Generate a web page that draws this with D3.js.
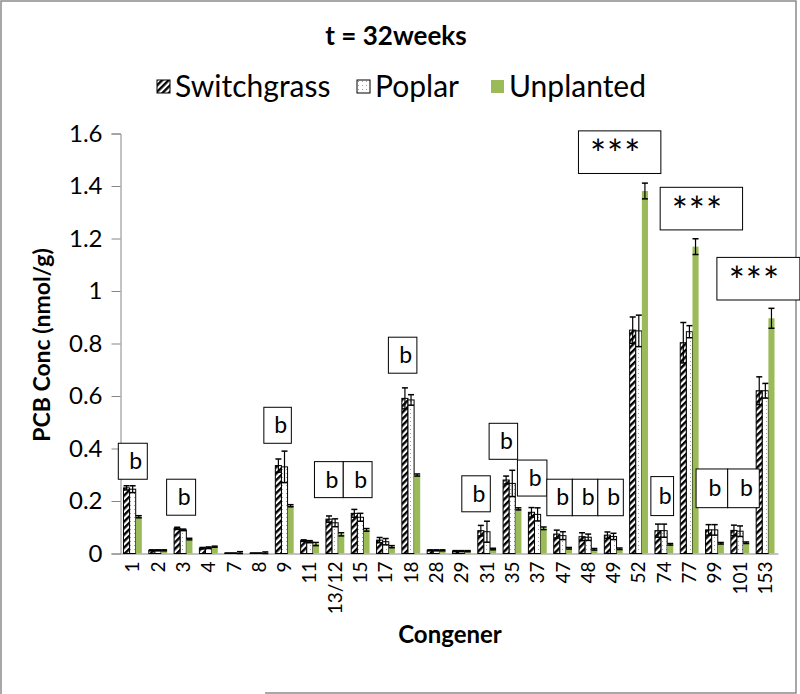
<!DOCTYPE html>
<html><head><meta charset="utf-8">
<script src="https://cdn.jsdelivr.net/npm/d3@7"></script>
<style>
html,body{margin:0;padding:0;background:#fff;}
svg{display:block;}
text{font-family:Lato,"Open Sans",sans-serif;}
</style></head>
<body>
<svg id="chart" width="800" height="694"></svg>
<script>
const congeners = ["1","2","3","4","7","8","9","11","13/12","15","17","18","28","29","31","35","37","47","48","49","52","74","77","99","101","153"];
const seriesNames = ["Switchgrass","Poplar","Unplanted"];
const switchgrass = [0.25,0.012,0.096,0.02,0.001,0.001,0.335,0.049,0.131,0.153,0.051,0.591,0.012,0.009,0.087,0.28,0.157,0.074,0.064,0.07,0.851,0.087,0.803,0.09,0.088,0.62];
const switchgrassErr = [0.008,0.002,0.004,0.003,0,0,0.025,0.003,0.012,0.015,0.01,0.04,0.002,0.002,0.02,0.015,0.018,0.015,0.015,0.012,0.05,0.025,0.077,0.02,0.02,0.053];
const poplar = [0.245,0.012,0.09,0.022,0.001,0.001,0.33,0.045,0.117,0.138,0.045,0.585,0.012,0.009,0.083,0.267,0.149,0.068,0.062,0.065,0.848,0.087,0.845,0.09,0.085,0.62];
const poplarErr = [0.013,0.002,0.003,0.003,0,0,0.06,0.004,0.015,0.015,0.012,0.02,0.002,0.002,0.04,0.05,0.025,0.015,0.012,0.012,0.06,0.025,0.023,0.02,0.02,0.028];
const unplanted = [0.14,0.012,0.055,0.026,0.003,0.003,0.182,0.036,0.073,0.09,0.026,0.299,0.012,0.009,0.017,0.17,0.096,0.02,0.016,0.018,1.381,0.035,1.169,0.039,0.041,0.896];
const unplantedErr = [0.004,0.002,0.003,0.002,0.004,0.003,0.004,0.006,0.006,0.005,0.004,0.004,0.002,0.002,0.003,0.004,0.005,0.003,0.003,0.003,0.03,0.003,0.03,0.003,0.003,0.038];
const yTicks = [0,0.2,0.4,0.6,0.8,1,1.2,1.4,1.6];
const yTickLabels = ["0","0.2","0.4","0.6","0.8","1","1.2","1.4","1.6"];
// annotation boxes: anchor congener, label, number of adjacent boxes, top value
const annotations = [
  {cat:"1", label:"b", n:1, top:0.42},
  {cat:"3", label:"b", n:1, top:0.283},
  {cat:"9", label:"b", n:1, top:0.557},
  {cat:"13/12", label:"b", n:2, top:0.35},
  {cat:"18", label:"b", n:1, top:0.824},
  {cat:"31", label:"b", n:1, top:0.296},
  {cat:"35", label:"b", n:1, top:0.496},
  {cat:"37", label:"b", n:1, top:0.356},
  {cat:"47", label:"b", n:3, top:0.283},
  {cat:"74", label:"b", n:1, top:0.293},
  {cat:"99", label:"b", n:2, top:0.322},
  {cat:"52", label:"***", n:1, top:1.61},
  {cat:"77", label:"***", n:1, top:1.395},
  {cat:"153", label:"***", n:1, top:1.128}
];
// layout for annotation boxes (pixels): dx from band start, box width, height
const annoLayout = {
  "1":[-1.7,29,36], "3":[-4,29,36], "9":[-8,27.5,36], "13/12":[-8,28.8,36],
  "18":[-10,28.5,36], "31":[-12.5,28.5,36], "35":[-10.5,28.5,36], "37":[-7.5,29.5,36],
  "47":[-3.4,25.5,36.5], "74":[-0.6,22.7,39], "99":[-6,31.6,38.7],
  "52":[-47.7,82.4,42.6], "77":[-16.6,82.4,42.6], "153":[-35.8,83,42.6]
};

const svg = d3.select("#chart");
const x = d3.scaleBand().domain(congeners).range([120, 778]).paddingInner(0).paddingOuter(0);
const xs = d3.scaleBand().domain(seriesNames).range([0, x.bandwidth()]).paddingInner(0).paddingOuter(0.57);
const y = d3.scaleLinear().domain([0,1.6]).range([553.5, 133.5]);

const defs = svg.append("defs");
const hatch = defs.append("pattern").attr("id","hatch").attr("patternUnits","userSpaceOnUse")
  .attr("width",4.6).attr("height",4.6).attr("patternTransform","rotate(45)");
hatch.append("rect").attr("width",4.6).attr("height",4.6).attr("fill","#fff");
hatch.append("rect").attr("width",2.4).attr("height",4.6).attr("fill","#000");
const dots = defs.append("pattern").attr("id","dots").attr("patternUnits","userSpaceOnUse")
  .attr("width",4).attr("height",4);
dots.append("rect").attr("width",4).attr("height",4).attr("fill","#fff");
dots.append("rect").attr("x",2).attr("y",1).attr("width",1).attr("height",1).attr("fill","#a0a0a0");

// frame
svg.append("path").attr("d","M1,694 V1 H796 V693 H265").attr("fill","none").attr("stroke","#8c8c8c").attr("stroke-width",1.5);

// title
svg.append("text").attr("x",396).attr("y",45).attr("text-anchor","middle")
  .attr("font-size",26).attr("font-weight","bold").text("t = 32weeks");

// legend
const legendItems = [
  {name:"Switchgrass", fill:"url(#hatch)", stroke:"#000", x:157},
  {name:"Poplar", fill:"url(#dots)", stroke:"#000", x:357},
  {name:"Unplanted", fill:"#9bbb59", stroke:"none", x:491}
];
const lg = svg.append("g");
legendItems.forEach(d=>{
  lg.append("rect").attr("x",d.x).attr("y",80).attr("width",13).attr("height",13)
    .attr("fill",d.fill).attr("stroke",d.stroke).attr("stroke-width",1);
  lg.append("text").attr("x",d.x+18).attr("y",97).attr("font-size",30).attr("fill","#000").text(d.name);
});

// axes
const yAxis = d3.axisLeft(y).tickValues(yTicks).tickFormat((d,i)=>yTickLabels[i]).tickSize(9).tickPadding(9);
const ga = svg.append("g").attr("transform","translate(120.5,0)").call(yAxis);
ga.select(".domain").attr("stroke","#868686");
ga.selectAll(".tick line").attr("stroke","#868686");
ga.selectAll(".tick text").attr("font-size",24).attr("font-family","Lato,sans-serif").attr("fill","#000");

const xAxis = d3.axisBottom(x).tickSize(0).tickPadding(8);
const gx = svg.append("g").attr("transform","translate(0,553.5)").call(xAxis);
gx.select(".domain").attr("stroke","#868686");
gx.selectAll(".tick text").attr("font-size",19).attr("font-family","Lato,sans-serif").attr("fill","#000")
  .attr("text-anchor","end").attr("dy","0.35em").attr("transform","rotate(-90)")
  .attr("x",-8).attr("y",0);

// bars
const series = [
  {name:"Switchgrass", vals:switchgrass, err:switchgrassErr, fill:"url(#hatch)", stroke:"#000"},
  {name:"Poplar", vals:poplar, err:poplarErr, fill:"url(#dots)", stroke:"#000"},
  {name:"Unplanted", vals:unplanted, err:unplantedErr, fill:"#9bbb59", stroke:"none"}
];
const gb = svg.append("g");
series.forEach(s=>{
  const data = congeners.map((c,i)=>({c, v:s.vals[i], e:s.err[i]}));
  gb.selectAll(null).data(data).enter().append("rect")
    .attr("x",d=>x(d.c)+xs(s.name)).attr("y",d=>y(d.v))
    .attr("width",xs.bandwidth()).attr("height",d=>y(0)-y(d.v))
    .attr("fill",s.fill).attr("stroke",s.stroke).attr("stroke-width",1);
});
series.forEach(s=>{
  const data = congeners.map((c,i)=>({c, v:s.vals[i], e:s.err[i]}));
  const cx = d=>x(d.c)+xs(s.name)+xs.bandwidth()/2;
  const eg = gb.selectAll(null).data(data).enter().append("g");
  eg.append("line").attr("x1",cx).attr("x2",cx).attr("y1",d=>y(d.v+d.e)).attr("y2",d=>y(Math.max(0,d.v-d.e)))
    .attr("stroke","#000").attr("stroke-width",1.2);
  eg.append("line").attr("x1",d=>cx(d)-3).attr("x2",d=>cx(d)+3).attr("y1",d=>y(d.v+d.e)).attr("y2",d=>y(d.v+d.e))
    .attr("stroke","#000").attr("stroke-width",1.5);
  eg.append("line").attr("x1",d=>cx(d)-3).attr("x2",d=>cx(d)+3).attr("y1",d=>y(Math.max(0,d.v-d.e))).attr("y2",d=>y(Math.max(0,d.v-d.e)))
    .attr("stroke","#000").attr("stroke-width",1.5);
});

// annotation boxes
const ag = svg.append("g");
annotations.forEach(a=>{
  const [dx,w,h] = annoLayout[a.cat];
  const x0 = x(a.cat)+dx, y0 = y(a.top);
  for(let k=0;k<a.n;k++){
    const bx = x0+k*w;
    ag.append("rect").attr("x",bx).attr("y",y0).attr("width",w).attr("height",h)
      .attr("fill","#fff").attr("stroke","#000").attr("stroke-width",1);
    const star = a.label==="***";
    ag.append("text").attr("x",bx+w/2+(star?-4:3)).attr("y",y0+h/2+(star?16:8))
      .attr("text-anchor","middle").attr("font-size",star?38:23)
      .attr("font-family",star?"'DejaVu Sans',sans-serif":"Lato,sans-serif")
      .attr("letter-spacing",star?1:0)
      .text(a.label);
  }
});

// axis titles
svg.append("text").attr("transform","translate(50,345) rotate(-90)").attr("text-anchor","middle")
  .attr("font-size",23).attr("font-weight","bold").text("PCB Conc (nmol/g)");
svg.append("text").attr("x",450).attr("y",643).attr("text-anchor","middle")
  .attr("font-size",24).attr("font-weight","bold").text("Congener");
</script>
</body></html>
